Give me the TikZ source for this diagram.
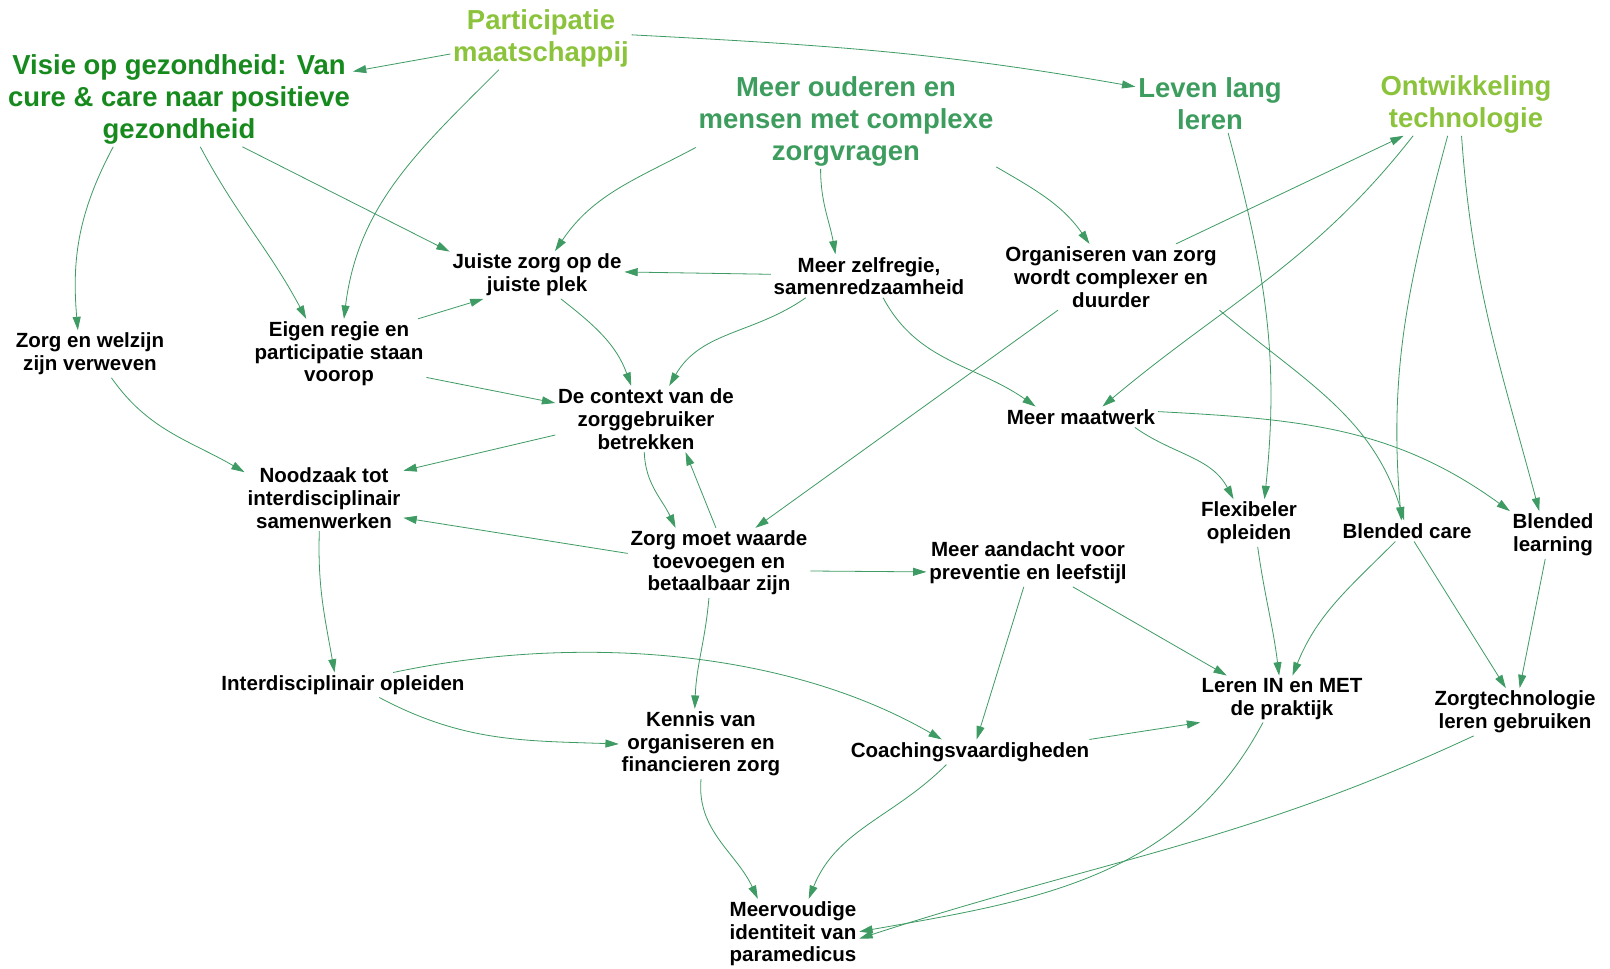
\documentclass[tikz,border=0pt]{standalone}
\usepackage{fontspec}
\setmainfont{Liberation Sans}
\usetikzlibrary{arrows.meta}
\definecolor{edgec}{HTML}{3E9B63}
\definecolor{dkgreen}{HTML}{178A1E}
\definecolor{ltgreen}{HTML}{8CC33C}
\definecolor{mdgreen}{HTML}{3D9D5E}
\tikzset{
  lbl/.style={align=center, inner sep=2pt, text=black, font=\fontsize{15.4}{17}\selectfont\bfseries},
  big/.style={align=center, inner sep=2pt, font=\fontsize{20.6}{24}\selectfont\bfseries},
  arr/.style={draw=edgec, line width=0.6pt, -{Triangle[length=10pt,width=6pt]}}
}
\begin{document}
\begin{tikzpicture}[x=0.75pt,y=-0.75pt]
\fill[white] (0,0) rectangle (1610,968);
\useasboundingbox (0,0) rectangle (1610,968);
% headline nodes
\node[big,text=ltgreen] (part) at (541,38) {Participatie\\maatschappij};
\node[big,text=dkgreen] (visie) at (179,99) {Visie op gezondheid: Van\\cure \& care naar positieve\\gezondheid};
\node[big,text=mdgreen] (ouderen) at (846,121) {Meer ouderen en\\mensen met complexe\\zorgvragen};
\node[big,text=mdgreen] (leven) at (1210,104) {Leven lang\\leren};
\node[big,text=ltgreen] (ontw) at (1466,104) {Ontwikkeling\\technologie};
% regular nodes
\node[lbl] (juiste) at (537,275) {Juiste zorg op de\\juiste plek};
\node[lbl] (zelf) at (869,276) {Meer zelfregie,\\samenredzaamheid};
\node[lbl] (org) at (1111,277) {Organiseren van zorg\\wordt complexer en\\duurder};
\node[lbl] (zw) at (90,354) {Zorg en welzijn\\zijn verweven};
\node[lbl] (eigen) at (339,354) {Eigen regie en\\participatie staan\\voorop};
\node[lbl] (context) at (646,419) {De context van de\\zorggebruiker\\betrekken};
\node[lbl] (maat) at (1081,417) {Meer maatwerk};
\node[lbl] (nood) at (324,498) {Noodzaak tot\\interdisciplinair\\samenwerken};
\node[lbl] (waarde) at (719,563) {Zorg moet waarde\\toevoegen en\\betaalbaar zijn};
\node[lbl] (aandacht) at (1028,563) {Meer aandacht voor\\preventie en leefstijl};
\node[lbl] (flex) at (1249,523) {Flexibeler\\opleiden};
\node[lbl] (bcare) at (1407,531) {Blended care};
\node[lbl] (blearn) at (1553,535) {Blended\\learning};
\node[lbl] (interop) at (343,685) {Interdisciplinair opleiden};
\node[lbl] (kennis) at (701,744) {Kennis van\\organiseren en\\financieren zorg};
\node[lbl] (coach) at (970,752) {Coachingsvaardigheden};
\node[lbl] (leren) at (1282,699) {Leren IN en MET\\de praktijk};
\node[lbl] (zorgtech) at (1515,712) {Zorgtechnologie\\leren gebruiken};
\node[lbl] (meerv) at (793,934) {Meervoudige\\identiteit van\\paramedicus};
% connectors
\draw[arr] (part.-170) -- (visie.9.5);
\draw[arr] (part.2) to[out=-3,in=170] (leven.167);
\draw[arr] (part.-143) to[out=-135,in=83] (eigen.82);
\draw[arr] (visie.-144) to[out=-118,in=95] (zw.117);
\draw[arr] (visie.-66) to[out=-62,in=118] (eigen.133);
\draw[arr] (visie.-37) -- (juiste.165);
\draw[arr] (ouderen.-170) to[out=-152,in=56] (juiste.53);
\draw[arr] (ouderen.-118) to[out=-90,in=100] (zelf.147);
\draw[arr] (ouderen.-17) to[out=-30,in=125] (org.123);
\draw[arr] (zelf.179) -- (juiste.2);
\draw[arr] (eigen.24) -- (juiste.-156);
\draw[arr] (juiste.-45) to[out=-38,in=110] (context.114);
\draw[arr] (zelf.-161) to[out=-145,in=60] (context.55);
\draw[arr] (eigen.-15) -- (context.170);
\draw[arr] (zelf.-57) to[out=-62,in=145] (maat.167);
\draw[arr] (org.-148) -- (waarde.44);
\draw[arr] (org.27) -- (ontw.-153);
\draw[arr] (ontw.-149) to[out=-128,in=40] (maat.26);
\draw[arr] (ontw.-120) to[out=-105,in=95] (bcare.118);
\draw[arr] (ontw.-98) to[out=-86,in=105] (blearn.120);
\draw[arr] (leven.-58) to[out=-75,in=84] (flex.57);
\draw[arr] (org.-17) to[out=-40,in=107] (bcare.105);
\draw[arr] (maat.-11) to[out=-35,in=118] (flex.123);
\draw[arr] (maat.4) to[out=-3,in=144] (blearn.151);
\draw[arr] (zw.-48) to[out=-55,in=150] (nood.162);
\draw[arr] (context.-170) -- (nood.19);
\draw[arr] (context.-93) to[out=-88,in=115] (waarde.141);
\draw[arr] (waarde.95) -- (context.-40);
\draw[arr] (waarde.174) -- (nood.-14);
\draw[arr] (waarde.-5) -- (aandacht.-175);
\draw[arr] (nood.-98) to[out=-92,in=100] (interop.124);
\draw[arr] (waarde.-106) to[out=-95,in=88] (kennis.100);
\draw[arr] (interop.-19) to[out=-28,in=178] (kennis.180);
\draw[arr] (interop.14) to[out=12,in=150,looseness=0.85] (coach.156);
\draw[arr] (aandacht.-100) -- (coach.62);
\draw[arr] (aandacht.-28) -- (leren.157);
\draw[arr] (coach.6) -- (leren.-164);
\draw[arr] (flex.-70) to[out=-82,in=97] (leren.97);
\draw[arr] (bcare.-138) to[out=-135,in=68] (leren.66);
\draw[arr] (bcare.-56) -- (zorgtech.111);
\draw[arr] (blearn.-108) -- (zorgtech.79);
\draw[arr] (kennis.-90) to[out=-95,in=115] (meerv.135);
\draw[arr] (coach.-152) to[out=-135,in=68] (meerv.66);
\draw[arr] (leren.-129) to[out=-118,in=10] (meerv.2);
\draw[arr] (zorgtech.-150) to[out=-155,in=18] (meerv.-4);
\end{tikzpicture}
\end{document}
